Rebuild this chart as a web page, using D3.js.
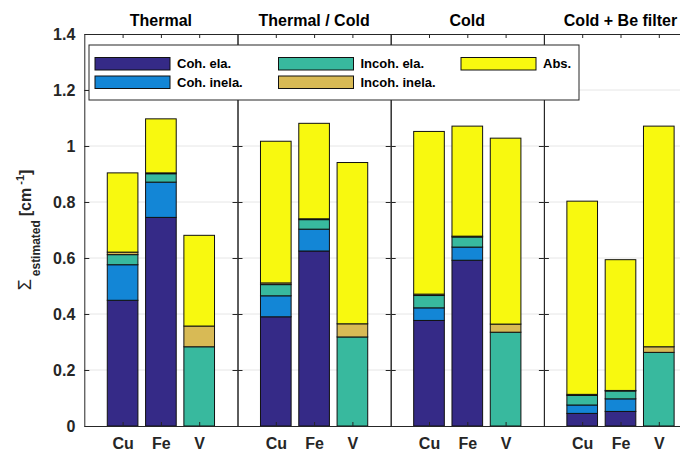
<!DOCTYPE html>
<html>
<head>
<meta charset="utf-8">
<script src="https://cdn.jsdelivr.net/npm/d3@7"></script>
<style>
  body { margin: 0; background: #fff; }
  svg { display: block; font-family: "Liberation Sans", Arial, sans-serif; }
  .axis path, .axis line { stroke: #262626; stroke-width: 1; }
  .axis text { font-size: 16px; font-weight: bold; fill: #262626; }
</style>
</head>
<body>
<div id="chart"></div>
<script>
// ---- data ----
const panels = ['Thermal', 'Thermal / Cold', 'Cold', 'Cold + Be filter'];
const materials = ['Cu', 'Fe', 'V'];
const components = ['Coh. ela.', 'Coh. inela.', 'Incoh. ela.', 'Incoh. inela.', 'Abs.'];
const colors = ['#352a87', '#1386d6', '#38b99e', '#d8ba55', '#f8f90f'];
const yTicks = [0, 0.2, 0.4, 0.6, 0.8, 1, 1.2, 1.4];
const yTickLabels = ['0', '0.2', '0.4', '0.6', '0.8', '1', '1.2', '1.4'];

// segment heights, one row per panel, [Cu, Fe, V]
const cohEla      = [[0.449, 0.745, 0], [0.390, 0.625, 0], [0.377, 0.592, 0], [0.045, 0.052, 0]];
const cohInela    = [[0.127, 0.126, 0], [0.075, 0.078, 0], [0.045, 0.047, 0], [0.030, 0.045, 0]];
const incohEla    = [[0.036, 0.030, 0.283], [0.040, 0.034, 0.318], [0.044, 0.036, 0.335], [0.034, 0.028, 0.263]];
const incohInela  = [[0.009, 0.003, 0.074], [0.006, 0.003, 0.047], [0.005, 0.003, 0.029], [0.004, 0.002, 0.020]];
const absorption  = [[0.283, 0.193, 0.324], [0.506, 0.341, 0.576], [0.581, 0.393, 0.664], [0.690, 0.467, 0.788]];
const series = [cohEla, cohInela, incohEla, incohInela, absorption];

(function() {
  const width = 680, height = 451;
  const left = 84.3, top = 34, bottom = 426, panelW = 153.2;

  const svg = d3.select('#chart').append('svg')
    .attr('width', width).attr('height', height);

  const y = d3.scaleLinear().domain([0, 1.4]).range([bottom, top]);
  const panelX = d3.scaleLinear().domain([0, panels.length]).range([left, left + panels.length * panelW]);

  // grid
  svg.append('g').selectAll('line')
    .data(yTicks.slice(1, -1))
    .enter().append('line')
    .attr('x1', panelX(0)).attr('x2', panelX(panels.length))
    .attr('y1', d => y(d)).attr('y2', d => y(d))
    .attr('stroke', '#e6e6e6').attr('stroke-width', 1);

  panels.forEach((title, p) => {
    const x = d3.scaleLinear().domain([0, 4]).range([panelX(p), panelX(p + 1)]);
    const g = svg.append('g');

    // stacked bars
    materials.forEach((m, i) => {
      let acc = 0;
      series.forEach((s, c) => {
        const v = s[p][i];
        const y0 = acc;
        acc += v;
        if (v <= 0) return;
        g.append('rect')
          .attr('x', x(i + 1 - 0.4))
          .attr('width', x(0.8) - x(0))
          .attr('y', y(acc))
          .attr('height', y(y0) - y(acc))
          .attr('fill', colors[c])
          .attr('stroke', '#111')
          .attr('stroke-width', 1);
      });
    });

    // axes (ticks inward)
    g.append('g').attr('class', 'axis')
      .attr('transform', `translate(${x(0)},0)`)
      .call(d3.axisLeft(y).tickValues(yTicks).tickSize(-5).tickSizeOuter(0).tickPadding(9)
        .tickFormat((d, i) => p === 0 ? yTickLabels[i] : ''));
    g.append('g').attr('class', 'axis')
      .attr('transform', `translate(${x(4)},0)`)
      .call(d3.axisRight(y).tickValues(yTicks).tickSize(-5).tickSizeOuter(0).tickFormat(''));
    g.append('g').attr('class', 'axis')
      .attr('transform', `translate(0,${top})`)
      .call(d3.axisTop(x).tickValues([1, 2, 3]).tickSize(-4).tickSizeOuter(0).tickFormat(''));
    const xb = g.append('g').attr('class', 'axis')
      .attr('transform', `translate(0,${bottom})`)
      .call(d3.axisBottom(x).tickValues([1, 2, 3]).tickSize(-4).tickSizeOuter(0)
        .tickFormat((d, i) => materials[i]));
    xb.selectAll('text').attr('y', 23).attr('dy', 0);

    g.append('text')
      .attr('x', x(2)).attr('y', 26)
      .attr('text-anchor', 'middle')
      .attr('font-size', 16).attr('font-weight', 'bold').attr('fill', '#000')
      .text(title);
  });

  // y label
  const yl = svg.append('text')
    .attr('transform', `translate(31,${(top + bottom) / 2}) rotate(-90)`)
    .attr('text-anchor', 'middle')
    .attr('fill', '#262626').attr('font-size', 16).attr('font-weight', 'bold');
  yl.append('tspan').attr('font-weight', 'normal').attr('font-size', 18).text('Σ');
  yl.append('tspan').attr('font-size', 12).attr('dx', 3).attr('dy', 9).text('estimated');
  yl.append('tspan').attr('dx', 4).attr('dy', -9).text('[cm');
  yl.append('tspan').attr('font-size', 11).attr('dx', 3).attr('dy', -7).text('-1');
  yl.append('tspan').attr('dy', 7).text(']');

  // legend
  const lg = svg.append('g');
  lg.append('rect')
    .attr('x', 89).attr('y', 45).attr('width', 490).attr('height', 55)
    .attr('fill', '#fff').attr('stroke', '#262626').attr('stroke-width', 1);
  const colX = [95, 278.5, 461], rowY = [57.5, 76];
  const items = lg.selectAll('g.item').data(components).enter().append('g')
    .attr('transform', (d, i) => {
      const col = i < 2 ? 0 : (i < 4 ? 1 : 2);
      const row = i === 4 ? 0 : i % 2;
      return `translate(${colX[col]},${rowY[row]})`;
    });
  items.append('rect')
    .attr('width', 75).attr('height', 12.5)
    .attr('fill', (d, i) => colors[i])
    .attr('stroke', '#111').attr('stroke-width', 1);
  items.append('text')
    .attr('x', 82).attr('y', 10.5)
    .attr('font-size', 13).attr('font-weight', 'bold').attr('fill', '#000')
    .text(d => d);
})();
</script>
</body>
</html>
